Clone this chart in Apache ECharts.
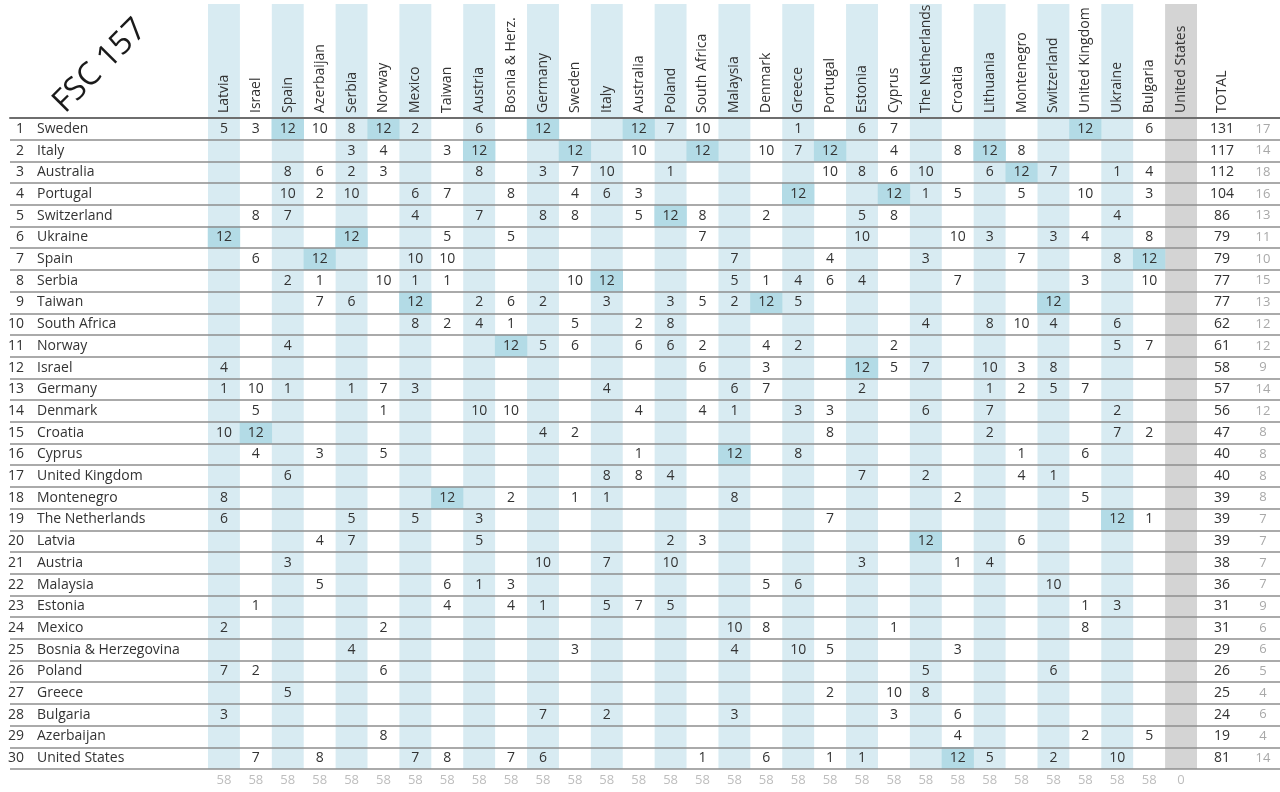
<!DOCTYPE html>
<html>
<head>
<meta charset="utf-8">
<script src="https://cdn.jsdelivr.net/npm/echarts@6/dist/echarts.min.js"></script>
<style>
html,body{margin:0;padding:0;background:#fff;}
#chart{width:1280px;height:792px;}
</style>
</head>
<body>
<div id="chart"></div>
<script>
const voters = ['Latvia','Israel','Spain','Azerbaijan','Serbia','Norway','Mexico','Taiwan','Austria','Bosnia & Herz.','Germany','Sweden','Italy','Australia','Poland','South Africa','Malaysia','Denmark','Greece','Portugal','Estonia','Cyprus','The Netherlands','Croatia','Lithuania','Montenegro','Switzerland','United Kingdom','Ukraine','Bulgaria','United States'];
const entries = ['Sweden','Italy','Australia','Portugal','Switzerland','Ukraine','Spain','Serbia','Taiwan','South Africa','Norway','Israel','Germany','Denmark','Croatia','Cyprus','United Kingdom','Montenegro','The Netherlands','Latvia','Austria','Malaysia','Estonia','Mexico','Bosnia & Herzegovina','Poland','Greece','Bulgaria','Azerbaijan','United States'];
const totals = [131,117,112,104,86,79,79,77,77,62,61,58,57,56,47,40,40,39,39,39,38,36,31,31,29,26,25,24,19,81];
const voteCounts = [17,14,18,16,13,11,10,15,13,12,12,9,14,12,8,8,8,8,7,7,7,7,9,6,6,5,4,6,4,14];
const columnTotals = [58,58,58,58,58,58,58,58,58,58,58,58,58,58,58,58,58,58,58,58,58,58,58,58,58,58,58,58,58,58,0];
const points = [
[5,3,12,10,8,12,2,0,6,0,12,0,0,12,7,10,0,0,1,0,6,7,0,0,0,0,0,12,0,6,0],
[0,0,0,0,3,4,0,3,12,0,0,12,0,10,0,12,0,10,7,12,0,4,0,8,12,8,0,0,0,0,0],
[0,0,8,6,2,3,0,0,8,0,3,7,10,0,1,0,0,0,0,10,8,6,10,0,6,12,7,0,1,4,0],
[0,0,10,2,10,0,6,7,0,8,0,4,6,3,0,0,0,0,12,0,0,12,1,5,0,5,0,10,0,3,0],
[0,8,7,0,0,0,4,0,7,0,8,8,0,5,12,8,0,2,0,0,5,8,0,0,0,0,0,0,4,0,0],
[12,0,0,0,12,0,0,5,0,5,0,0,0,0,0,7,0,0,0,0,10,0,0,10,3,0,3,4,0,8,0],
[0,6,0,12,0,0,10,10,0,0,0,0,0,0,0,0,7,0,0,4,0,0,3,0,0,7,0,0,8,12,0],
[0,0,2,1,0,10,1,1,0,0,0,10,12,0,0,0,5,1,4,6,4,0,0,7,0,0,0,3,0,10,0],
[0,0,0,7,6,0,12,0,2,6,2,0,3,0,3,5,2,12,5,0,0,0,0,0,0,0,12,0,0,0,0],
[0,0,0,0,0,0,8,2,4,1,0,5,0,2,8,0,0,0,0,0,0,0,4,0,8,10,4,0,6,0,0],
[0,0,4,0,0,0,0,0,0,12,5,6,0,6,6,2,0,4,2,0,0,2,0,0,0,0,0,0,5,7,0],
[4,0,0,0,0,0,0,0,0,0,0,0,0,0,0,6,0,3,0,0,12,5,7,0,10,3,8,0,0,0,0],
[1,10,1,0,1,7,3,0,0,0,0,0,4,0,0,0,6,7,0,0,2,0,0,0,1,2,5,7,0,0,0],
[0,5,0,0,0,1,0,0,10,10,0,0,0,4,0,4,1,0,3,3,0,0,6,0,7,0,0,0,2,0,0],
[10,12,0,0,0,0,0,0,0,0,4,2,0,0,0,0,0,0,0,8,0,0,0,0,2,0,0,0,7,2,0],
[0,4,0,3,0,5,0,0,0,0,0,0,0,1,0,0,12,0,8,0,0,0,0,0,0,1,0,6,0,0,0],
[0,0,6,0,0,0,0,0,0,0,0,0,8,8,4,0,0,0,0,0,7,0,2,0,0,4,1,0,0,0,0],
[8,0,0,0,0,0,0,12,0,2,0,1,1,0,0,0,8,0,0,0,0,0,0,2,0,0,0,5,0,0,0],
[6,0,0,0,5,0,5,0,3,0,0,0,0,0,0,0,0,0,0,7,0,0,0,0,0,0,0,0,12,1,0],
[0,0,0,4,7,0,0,0,5,0,0,0,0,0,2,3,0,0,0,0,0,0,12,0,0,6,0,0,0,0,0],
[0,0,3,0,0,0,0,0,0,0,10,0,7,0,10,0,0,0,0,0,3,0,0,1,4,0,0,0,0,0,0],
[0,0,0,5,0,0,0,6,1,3,0,0,0,0,0,0,0,5,6,0,0,0,0,0,0,0,10,0,0,0,0],
[0,1,0,0,0,0,0,4,0,4,1,0,5,7,5,0,0,0,0,0,0,0,0,0,0,0,0,1,3,0,0],
[2,0,0,0,0,2,0,0,0,0,0,0,0,0,0,0,10,8,0,0,0,1,0,0,0,0,0,8,0,0,0],
[0,0,0,0,4,0,0,0,0,0,0,3,0,0,0,0,4,0,10,5,0,0,0,3,0,0,0,0,0,0,0],
[7,2,0,0,0,6,0,0,0,0,0,0,0,0,0,0,0,0,0,0,0,0,5,0,0,0,6,0,0,0,0],
[0,0,5,0,0,0,0,0,0,0,0,0,0,0,0,0,0,0,0,2,0,10,8,0,0,0,0,0,0,0,0],
[3,0,0,0,0,0,0,0,0,0,7,0,2,0,0,0,3,0,0,0,0,3,0,6,0,0,0,0,0,0,0],
[0,0,0,0,0,8,0,0,0,0,0,0,0,0,0,0,0,0,0,0,0,0,0,4,0,0,0,2,0,5,0],
[0,7,0,8,0,0,7,8,0,7,6,0,0,0,0,1,0,6,0,1,1,0,0,12,5,0,2,0,10,0,0]
];

const FONT = "'Open Sans', 'Noto Sans', sans-serif";
const BLUE = '#d8ebf2', GRAY = '#d4d4d4', HIGH = '#b3dbe6';
const shade = voters.map((v, i) => i === voters.length - 1 ? GRAY : (i % 2 === 0 ? BLUE : 'rgba(255,255,255,0)'));
const entryIdx = entries.map((e, i) => i);

const heatData = [];
points.forEach((row, r) => row.forEach((v, c) => { if (v) heatData.push([c, r, v]); }));

const rankRich = {
  r1: {width: 9, padding: [0, 0, 0, 16], fontSize: 14, color: '#333', fontFamily: FONT},
  r2: {width: 17, padding: [0, 0, 0, 8], fontSize: 14, color: '#333', fontFamily: FONT},
  n: {padding: [0, 0, 0, 12], fontSize: 14, color: '#333', fontFamily: FONT}
};

const chart = echarts.init(document.getElementById('chart'), null, {renderer: 'canvas'});
chart.setOption({
  animation: false,
  backgroundColor: '#fff',
  textStyle: {fontFamily: FONT},
  grid: [
    {left: 10, right: 0, top: 118, bottom: 23},
    {left: 208, right: 83, top: 4, height: 114},
    {left: 208, right: 83, top: 118, bottom: 23}
  ],
  xAxis: [
    {gridIndex: 0, type: 'value', min: 0, max: 1, position: 'top', z: 4,
     axisLine: {show: true, onZero: false, lineStyle: {color: '#6e6e6e', width: 2}},
     axisTick: {show: false}, axisLabel: {show: false}, splitLine: {show: false}},
    {gridIndex: 1, type: 'category', data: voters, position: 'bottom',
     axisLine: {show: false}, axisTick: {show: false},
     axisLabel: {inside: true, rotate: 90, margin: 5, align: 'left', verticalAlign: 'middle', interval: 0,
       fontSize: 14, color: '#333', fontFamily: FONT},
     splitArea: {show: true, interval: 0, areaStyle: {color: shade}}},
    {gridIndex: 2, type: 'category', data: voters, position: 'bottom',
     axisLine: {show: false}, axisTick: {show: false},
     axisLabel: {interval: 0, margin: 5, fontSize: 13, color: '#bdbdbd', fontFamily: FONT,
       formatter: (v, i) => String(columnTotals[i])},
     splitArea: {show: true, interval: 0, areaStyle: {color: shade}}}
  ],
  yAxis: [
    {gridIndex: 0, type: 'category', data: entryIdx, inverse: true, z: 4,
     axisLine: {show: false}, axisTick: {show: false}, axisLabel: {show: false},
     splitLine: {show: true, interval: 0, lineStyle: {color: '#8e8e8e', width: 1.6}}},
    {gridIndex: 1, type: 'value', min: 0, max: 1, show: false},
    {gridIndex: 2, type: 'category', data: entries, inverse: true, position: 'left',
     axisLine: {show: false}, axisTick: {show: false}, splitLine: {show: false},
     axisLabel: {interval: 0, margin: 208, align: 'left', fontSize: 14, color: '#333', fontFamily: FONT,
       formatter: (v, i) => (i + 1 < 10 ? '{r1|' : '{r2|') + (i + 1) + '}{n|' + v + '}',
       rich: rankRich}},
    {gridIndex: 2, type: 'category', data: entries, inverse: true, position: 'right',
     axisLine: {show: false}, axisTick: {show: false}, splitLine: {show: false},
     axisLabel: {interval: 0, margin: 0, align: 'left', fontFamily: FONT,
       formatter: (v, i) => '{t|' + totals[i] + '}{c|' + voteCounts[i] + '}',
       rich: {t: {width: 50, align: 'center', fontSize: 14, color: '#333', fontFamily: FONT},
              c: {width: 32, align: 'center', fontSize: 13, color: '#a8a8a8', fontFamily: FONT}}}}
  ],
  visualMap: {show: false, type: 'piecewise', seriesIndex: 2, dimension: 2,
    pieces: [{value: 12, color: HIGH}, {min: 0, max: 11, color: 'rgba(255,255,255,0)'}]},
  graphic: [
    {type: 'text', x: 100, y: 66, rotation: Math.PI / 4,
     style: {text: 'FSC 157', font: "32px 'Open Sans', sans-serif", fill: '#1a1a1a', align: 'center', verticalAlign: 'middle'}},
    {type: 'text', x: 1222, y: 113, rotation: Math.PI / 2,
     style: {text: 'TOTAL', font: "14px 'Open Sans', sans-serif", fill: '#333', align: 'left', verticalAlign: 'middle'}}
  ],
  series: [
    {type: 'line', xAxisIndex: 0, yAxisIndex: 0, data: [], silent: true},
    {type: 'line', xAxisIndex: 1, yAxisIndex: 1, data: [], silent: true},
    {type: 'heatmap', xAxisIndex: 2, yAxisIndex: 2, data: heatData, z: 2,
     label: {show: true, formatter: p => String(p.value[2]), fontSize: 14, color: '#333', fontFamily: FONT},
     emphasis: {disabled: true}}
  ]
});
</script>
</body>
</html>
